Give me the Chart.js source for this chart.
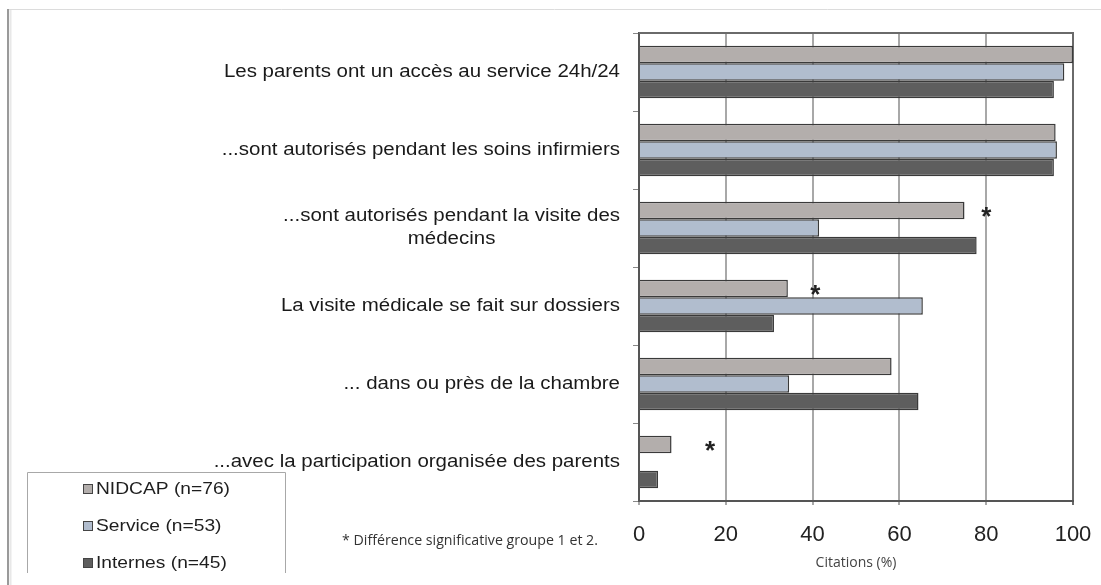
<!DOCTYPE html>
<html>
<head>
<meta charset="utf-8">
<title>Présence des parents dans le service</title>
<script src="https://cdn.jsdelivr.net/npm/chart.js@4"></script>
<style>
  body { margin: 0; background: #fff; }
  canvas { display: block; }
</style>
</head>
<body>
<canvas id="chart" width="1101" height="585"></canvas>
<script>
// Categories, top to bottom (arrays = wrapped label)
const categories = [
  "Les parents ont un accès au service 24h/24",
  "...sont autorisés pendant les soins infirmiers",
  ["...sont autorisés pendant la visite des", "médecins"],
  "La visite médicale se fait sur dossiers",
  "... dans ou près de la chambre",
  "...avec la participation organisée des parents"
];

// Citations (%) for each group
const nidcap   = [100, 96, 75, 34.3, 58.2, 7.5];
const service  = [98, 96.3, 41.5, 65.4, 34.6, 0];
const internes = [95.6, 95.6, 77.8, 31.1, 64.4, 4.4];

const seriesNames = ["NIDCAP (n=76)", "Service (n=53)", "Internes (n=45)"];
const xTicks = [0, 20, 40, 60, 80, 100];

// Significant differences: category index and where the star sits
const starCats = [2, 3, 5];
const starAt = [80, 40.6, 16.4];

const noteText = "* Différence significative groupe 1 et 2.";
const axisTitle = "Citations (%)";

const colors = ["#b3aeac", "#b1bdce", "#5e5e5e"];
const SANS = "'Liberation Sans', Arial, sans-serif";

function line(ctx, x1, y1, x2, y2) {
  ctx.beginPath();
  ctx.moveTo(x1, y1);
  ctx.lineTo(x2, y2);
  ctx.stroke();
}

// Draw text stretched horizontally (the original picture is a bit wide)
function stretchText(ctx, text, x, y, sx, align) {
  ctx.save();
  ctx.translate(x, y);
  ctx.scale(sx, 1);
  ctx.textAlign = align;
  ctx.fillText(text, 0, 0);
  ctx.restore();
}

// Everything Excel drew that Chart.js has no option for
const decor = {
  id: "decor",
  afterDraw(chart) {
    const ctx = chart.ctx;
    const area = chart.chartArea;
    const xs = chart.scales.x;
    const ys = chart.scales.y;
    ctx.save();

    // outer frame of the picture
    ctx.strokeStyle = "#dcdcdc";
    ctx.lineWidth = 1;
    line(ctx, 8, 9.5, 1101, 9.5);
    ctx.strokeStyle = "#9a9a9a";
    ctx.lineWidth = 2;
    line(ctx, 8, 9, 8, 585);
    ctx.strokeStyle = "#e8e8e8";
    line(ctx, 10.5, 10, 10.5, 585);

    // top edge of the plot area
    ctx.strokeStyle = "#6a6a6a";
    ctx.lineWidth = 2;
    line(ctx, area.left, area.top, area.right + 1, area.top);

    // category labels, right aligned, wrapped lines centred
    ctx.fillStyle = "#1a1a1a";
    ctx.font = "17.5px " + SANS;
    ctx.textBaseline = "middle";
    const labelSx = 1.17;
    const labelRight = 620;
    categories.forEach((lab, i) => {
      const lines = Array.isArray(lab) ? lab : [lab];
      const cy = ys.getPixelForValue(i);
      const blockW = Math.max(...lines.map(l => ctx.measureText(l).width)) * labelSx;
      lines.forEach((ln, j) => {
        const ly = cy + (j - (lines.length - 1) / 2) * 23;
        stretchText(ctx, ln, labelRight - blockW / 2, ly, labelSx, "center");
      });
    });

    // significance stars next to the NIDCAP bars
    const meta = chart.getDatasetMeta(0);
    ctx.font = "bold 26px " + SANS;
    ctx.textBaseline = "alphabetic";
    ctx.textAlign = "center";
    ctx.fillStyle = "#222";
    starCats.forEach((c, k) => {
      ctx.fillText("*", xs.getPixelForValue(starAt[k]), meta.data[c].y + 15);
    });

    // legend box (open at the bottom, cut by the picture)
    ctx.strokeStyle = "#a8a8a8";
    ctx.lineWidth = 1;
    ctx.beginPath();
    ctx.moveTo(27.5, 573);
    ctx.lineTo(27.5, 472.5);
    ctx.lineTo(285.5, 472.5);
    ctx.lineTo(285.5, 573);
    ctx.stroke();

    ctx.font = "17px " + SANS;
    ctx.textBaseline = "middle";
    seriesNames.forEach((name, k) => {
      const ly = 489 + k * 37;
      ctx.fillStyle = colors[k];
      ctx.fillRect(83, ly - 5, 10, 10);
      ctx.strokeStyle = "#444";
      ctx.lineWidth = 1;
      ctx.strokeRect(83.5, ly - 4.5, 9, 9);
      ctx.fillStyle = "#1e1e1e";
      stretchText(ctx, name, 96, ly, 1.13, "left");
    });

    // footnote
    ctx.font = "14.2px 'Open Sans', sans-serif";
    ctx.fillStyle = "#333";
    stretchText(ctx, noteText, 342, 541, 1, "left");

    ctx.restore();
  }
};

new Chart(document.getElementById("chart"), {
  type: "bar",
  data: {
    labels: categories,
    datasets: [nidcap, service, internes].map((d, k) => ({
      label: seriesNames[k],
      data: d,
      backgroundColor: colors[k],
      borderColor: "#3a3a3a",
      borderWidth: 1.5,
      barPercentage: 1,
      categoryPercentage: 0.675
    }))
  },
  options: {
    indexAxis: "y",
    responsive: false,
    animation: false,
    devicePixelRatio: 1,
    layout: { padding: { top: 33, right: 28, left: 0, bottom: 0 } },
    plugins: {
      legend: { display: false },
      tooltip: { enabled: false }
    },
    scales: {
      x: {
        min: 0,
        max: 100,
        afterBuildTicks: s => { s.ticks = xTicks.map(v => ({ value: v })); },
        ticks: {
          font: { family: SANS, size: 22 },
          color: "#222",
          padding: 17,
          maxRotation: 0
        },
        grid: {
          color: c => (c.tick && c.tick.value === 100 ? "#6a6a6a" : "#a8a8a8"),
          lineWidth: 2,
          tickLength: 4
        },
        border: { color: "#555", width: 2 },
        title: {
          display: true,
          text: axisTitle,
          font: { family: "'Open Sans', sans-serif", size: 14 },
          color: "#444",
          padding: { top: 4, bottom: 14 }
        },
        afterFit: s => {
          s.height = 84;
          s.paddingRight = 0;
          s.paddingLeft = 0;
        }
      },
      y: {
        ticks: { display: false },
        grid: { drawOnChartArea: false, color: "#888", tickLength: 6, lineWidth: 1 },
        border: { color: "#555", width: 2 },
        afterFit: s => { s.width = 639; }
      }
    }
  },
  plugins: [decor]
});
</script>
</body>
</html>
